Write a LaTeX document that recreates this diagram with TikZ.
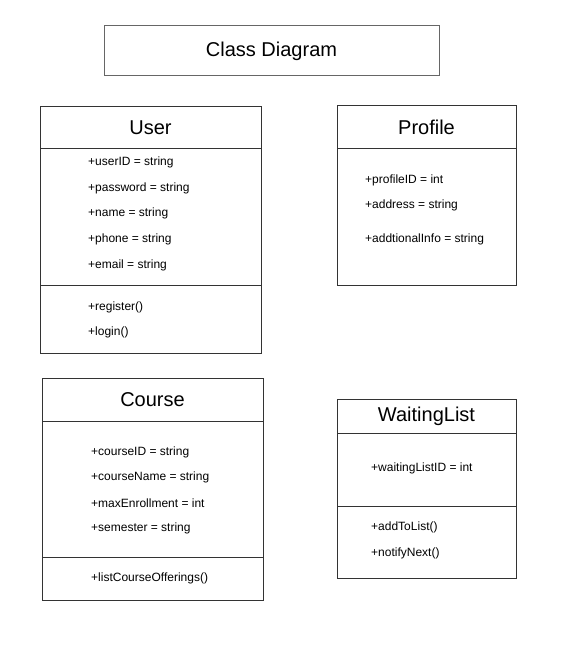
\documentclass[tikz,border=0pt]{standalone}
\usepackage{fontspec}
\setmainfont{Liberation Sans}
\begin{document}
\begin{tikzpicture}[x=1pt,y=-1pt,
  comp/.style={draw=black!80, line width=1pt, anchor=north west, inner sep=0pt, outer sep=0pt, fill=white},
  head/.style={font=\fontsize{20}{24}\selectfont},
  attr/.style={anchor=west, inner sep=0pt, font=\fontsize{12}{14}\selectfont},
  titlebox/.style={draw=black!60, line width=1pt, anchor=north west, inner sep=0pt, outer sep=0pt, font=\fontsize{20}{24}\selectfont}]
\useasboundingbox (0,0) rectangle (571,655);
% Title
\node[titlebox, minimum width=335, minimum height=50] (title) at (104,26) {Class Diagram};
% User
\node[comp, head, minimum width=221, minimum height=42] (userH) at (40,107) {User};
\node[comp, minimum width=221, minimum height=136] (userA) at (userH.south west) {};
\node[comp, minimum width=221, minimum height=68] (userM) at (userA.south west) {};
\node[attr] (u1) at (88,162) {+userID = string};
\node[attr] (u2) at (88,188) {+password = string};
\node[attr] (u3) at (88,213) {+name = string};
\node[attr] (u4) at (88,239) {+phone = string};
\node[attr] (u5) at (88,265) {+email = string};
\node[attr] (u6) at (88,307) {+register()};
\node[attr] (u7) at (88,332) {+login()};
% Profile
\node[comp, head, minimum width=179, minimum height=43] (profH) at (337,106) {Profile};
\node[comp, minimum width=179, minimum height=136] (profA) at (profH.south west) {};
\node[attr] (p1) at (365,180) {+profileID = int};
\node[attr] (p2) at (365,205) {+address = string};
\node[attr] (p3) at (365,239) {+addtionalInfo = string};
% Course
\node[comp, head, minimum width=221, minimum height=43] (courH) at (42,378) {Course};
\node[comp, minimum width=221, minimum height=136] (courA) at (courH.south west) {};
\node[comp, minimum width=221, minimum height=43] (courM) at (courA.south west) {};
\node[attr] (c1) at (91,452) {+courseID = string};
\node[attr] (c2) at (91,477) {+courseName = string};
\node[attr] (c3) at (91,503) {+maxEnrollment = int};
\node[attr] (c4) at (91,528) {+semester = string};
\node[attr] (c5) at (91,578) {+listCourseOfferings()};
% WaitingList
\node[comp, head, minimum width=179, minimum height=34] (waitH) at (337,399) {WaitingList};
\node[comp, minimum width=179, minimum height=73] (waitA) at (waitH.south west) {};
\node[comp, minimum width=179, minimum height=72] (waitM) at (waitA.south west) {};
\node[attr] (w1) at (371,468) {+waitingListID = int};
\node[attr] (w2) at (371,527) {+addToList()};
\node[attr] (w3) at (371,553) {+notifyNext()};
\end{tikzpicture}
\end{document}
